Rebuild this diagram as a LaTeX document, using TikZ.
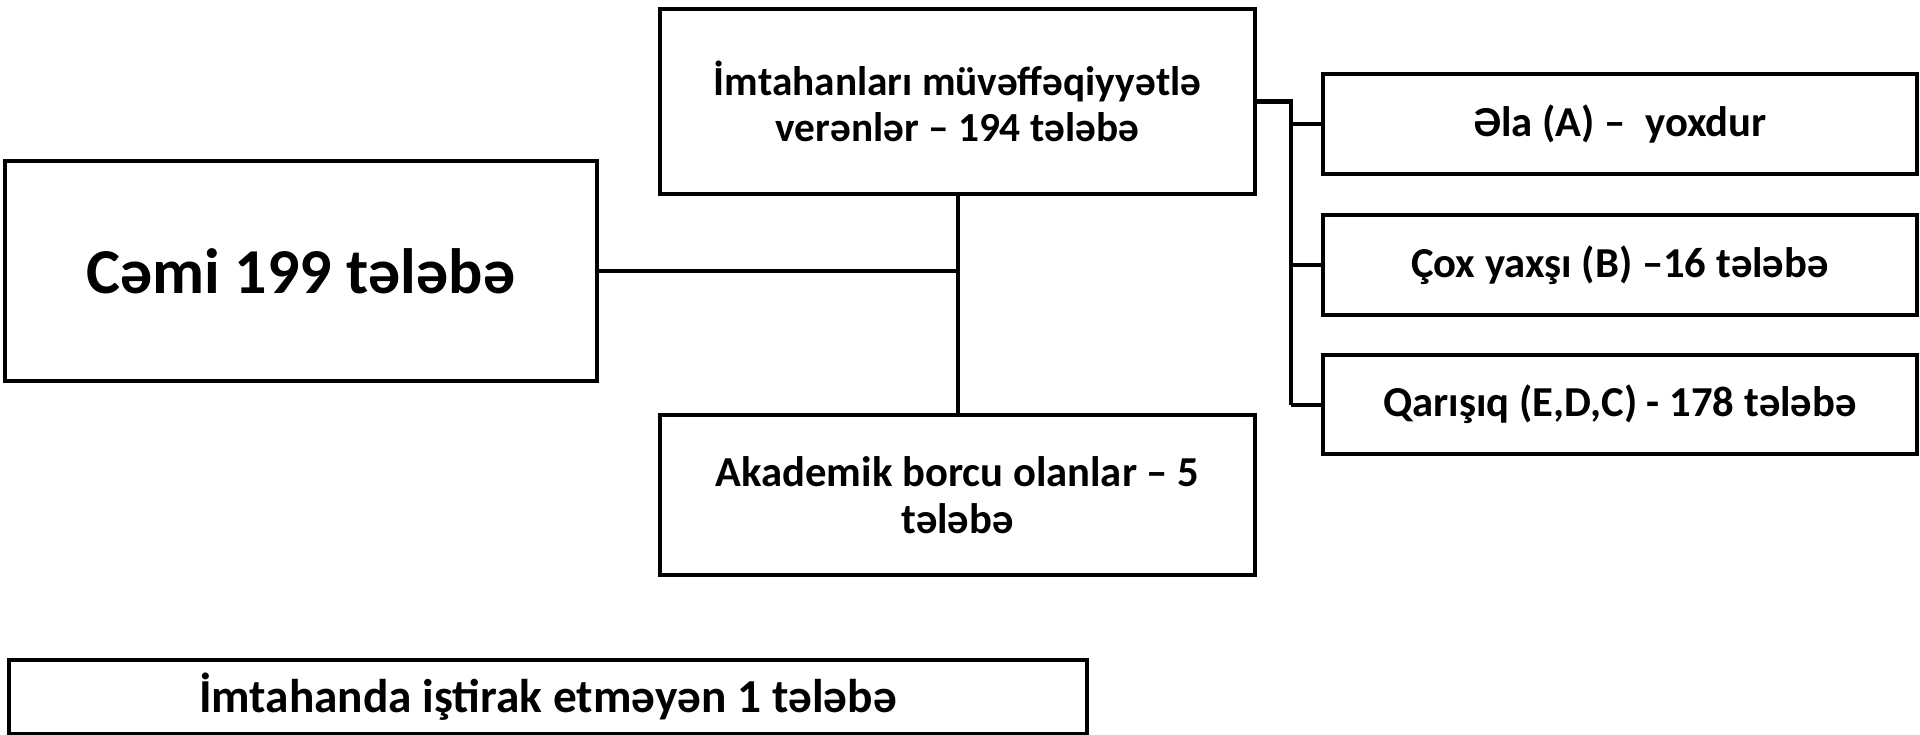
\documentclass[tikz,border=0pt]{standalone}
\usepackage{fontspec}
\setmainfont{Carlito}
\usepackage{tikz}

\begin{document}
\begin{tikzpicture}[x=0.75pt,y=0.75pt,yscale=-1,xscale=1,
    box/.style={draw, line width=3pt, inner sep=0pt, align=center, font=\bfseries\fontsize{32}{35}\selectfont},
    link/.style={line width=3pt}]
        \useasboundingbox (0,0) rectangle (1920,735);

        %Shape: Rectangle [total]
        \node [box, minimum width=444pt, minimum height=165pt, font=\bfseries\fontsize{48}{56}\selectfont] (total) at (301,271) {Cəmi 199 tələbə};
        %Shape: Rectangle [passed]
        \node [box, minimum width=446.25pt, minimum height=138.75pt, font=\bfseries\fontsize{31}{35}\selectfont] (passed) at (957.5,101.5) {İmtahanları müvəffəqiyyətlə\\verənlər – 194 tələbə};
        %Shape: Rectangle [debt]
        \node [box, minimum width=446.25pt, minimum height=120pt] (debt) at (957.5,495) {Akademik borcu olanlar – 5\\tələbə};
        %Shape: Rectangle [gradeA]
        \node [box, minimum width=445.5pt, minimum height=75pt] (gradeA) at (1620,124) {Əla (A) –\ \ yoxdur};
        %Shape: Rectangle [gradeB]
        \node [box, minimum width=445.5pt, minimum height=75pt] (gradeB) at (1620,265) {Çox yaxşı (B) –16 tələbə};
        %Shape: Rectangle [gradeC]
        \node [box, minimum width=445.5pt, minimum height=74.25pt] (gradeC) at (1620,404.5) {Qarışıq (E,D,C) - 178 tələbə};
        %Shape: Rectangle [absent]
        \node [box, minimum width=808.5pt, minimum height=55.5pt, font=\bfseries\fontsize{35.5}{40}\selectfont] (absent) at (548,697) {İmtahanda iştirak etməyən 1 tələbə};

        %Straight Lines
        \draw [link] (passed.south) -- (debt.north) ;
        %Straight Lines
        \draw [link] (total.east) -- (total.east -| passed.south) ;
        %Straight Lines
        \coordinate (pj) at (1291,101.5) ;
        \draw [link] (passed.east) -- (pj) -- (pj |- gradeC.west) ;
        %Straight Lines
        \draw [link] (pj |- gradeA.west) -- (gradeA.west) ;
        \draw [link] (pj |- gradeB.west) -- (gradeB.west) ;
        \draw [link] (pj |- gradeC.west) -- (gradeC.west) ;

\end{tikzpicture}
\end{document}
